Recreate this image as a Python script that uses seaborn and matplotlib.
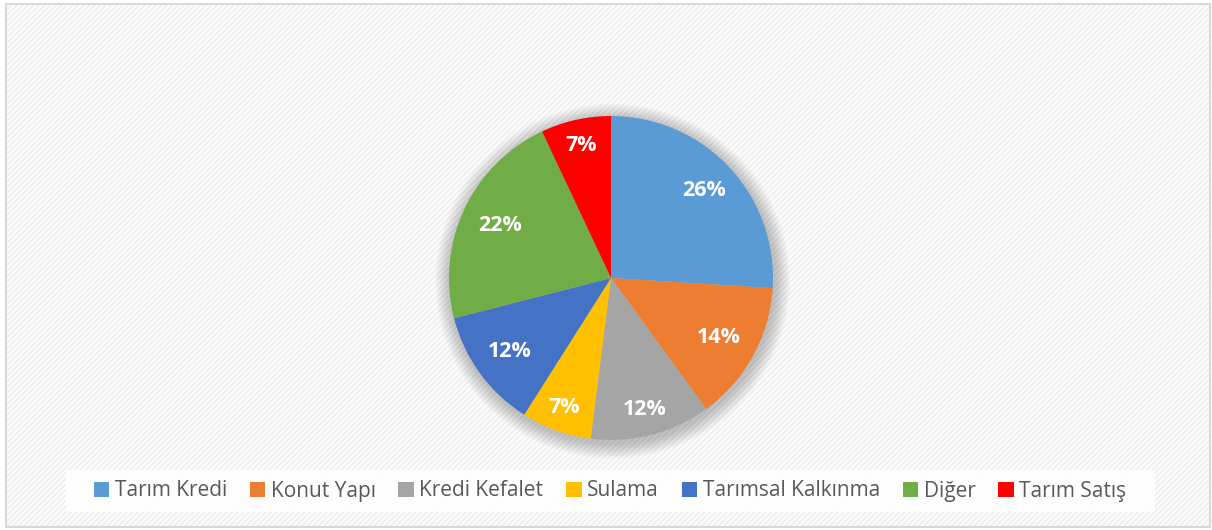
import matplotlib
matplotlib.use("Agg")
import numpy as np
import matplotlib.pyplot as plt
import seaborn as sns
from matplotlib.patches import Rectangle, Circle

sns.set_theme(style="white")
plt.rcParams["font.family"] = ["Open Sans", "DejaVu Sans"]
plt.rcParams["hatch.linewidth"] = 1.6

# dilim verileri
labels = ["Tarım Kredi", "Konut Yapı", "Kredi Kefalet", "Sulama",
          "Tarımsal Kalkınma", "Diğer", "Tarım Satış"]
shares = [26, 14, 12, 7, 12, 22, 7]
colors = ["#5b9bd5", "#ed7d31", "#a5a5a5", "#ffc000",
          "#4472c4", "#70ad47", "#ff0000"]
# etiketlerin merkeze uzaklığı (Excel "en uygun" yerleşimine yakın)
label_dist = [0.79, 0.76, 0.84, 0.85, 0.77, 0.76, 0.84]

W, H = 1212, 530
fig = plt.figure(figsize=(W / 100, H / 100), dpi=100)

# arka plan: ince çizgili desen + çerçeve
bg = Rectangle((6 / W, 3 / H), 1204 / W, 523 / H, transform=fig.transFigure,
               facecolor="white", edgecolor="#f0f0f0", hatch="//////",
               linewidth=0, zorder=-3)
fig.patches.append(bg)
frame = Rectangle((6 / W, 3 / H), 1204 / W, 523 / H, transform=fig.transFigure,
                  facecolor="none", edgecolor="#d9d9d9", linewidth=1.5, zorder=-2)
fig.patches.append(frame)
# lejant kutusu
legbox = Rectangle((66 / W, (H - 512) / H), 1089 / W, 42 / H,
                   transform=fig.transFigure, facecolor="white", alpha=0.85,
                   edgecolor="none", zorder=-1)
fig.patches.append(legbox)

cx, cy, r = 611, 278, 162
ax = fig.add_axes([(cx - r) / W, (H - cy - r) / H, 2 * r / W, 2 * r / H])
ax.patch.set_visible(False)

# yumuşak gölge
for i in range(12):
    rad = 1.0 + 0.008 * (i + 1)
    ax.add_patch(Circle((0.01, -0.02), rad, facecolor="#000000",
                        alpha=0.018, linewidth=0, clip_on=False, zorder=0))

wedges, texts, autotexts = ax.pie(
    shares, colors=colors, startangle=90, counterclock=False, radius=1.0,
    autopct=lambda p: f"{p:.0f}%", pctdistance=0.8,
    wedgeprops=dict(linewidth=0),
    textprops=dict(color="white", fontsize=15.5, fontweight="bold"),
)
for w in wedges:
    w.set_zorder(2)
for w, t, d in zip(wedges, autotexts, label_dist):
    ang = np.deg2rad((w.theta1 + w.theta2) / 2)
    t.set_position((d * np.cos(ang), d * np.sin(ang)))
    t.set_zorder(3)
ax.set_xlim(-1, 1)
ax.set_ylim(-1, 1)
ax.axis("off")

leg = fig.legend(wedges, labels, loc="center", ncol=7,
                 bbox_to_anchor=(610 / W, (H - 491) / H),
                 frameon=False, fontsize=15, labelcolor="#595959",
                 handlelength=0.75, handleheight=0.75, handletextpad=0.25,
                 columnspacing=1.1)

fig.savefig("out.png", dpi=100)
